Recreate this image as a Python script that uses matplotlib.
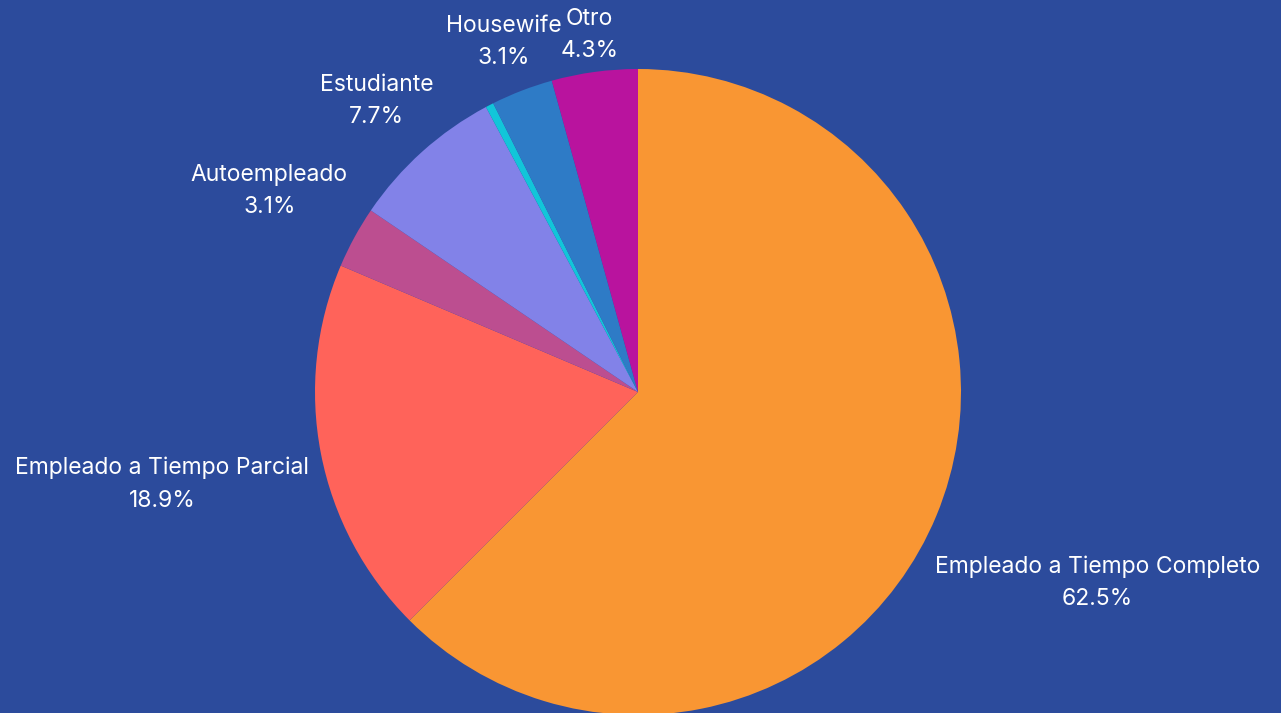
import matplotlib.pyplot as plt

# data
labels = ['Empleado a Tiempo Completo', 'Empleado a Tiempo Parcial', 'Autoempleado',
          'Estudiante', 'Desempleado', 'Housewife', 'Otro']
shares = [62.5, 18.9, 3.1, 7.7, 0.4, 3.1, 4.3]
colors = ['#F99633', '#FF635A', '#BC4E90', '#8282E8', '#12C5D9', '#2E7BC6', '#B9139E']
bg = '#2C4B9C'

# how far out each label sits (in radii)
label_dist = [1.54, 1.50, 1.30, 1.21, 1.2, 1.16, 1.115]

plt.rcParams['font.family'] = ['Inter', 'DejaVu Sans']

fig = plt.figure(figsize=(12.81, 7.13), dpi=100)
fig.patch.set_facecolor(bg)
# pie centre at (638, 392) px, radius 323 px
ax = fig.add_axes([(638 - 323) / 1281, (321 - 323) / 713, 646 / 1281, 646 / 713])
ax.set_facecolor(bg)

wedges, texts = ax.pie(shares, colors=colors, startangle=90, counterclock=False,
                       labels=[f'{l}\n{s}%' for l, s in zip(labels, shares)],
                       labeldistance=1.0, radius=1.0,
                       wedgeprops=dict(linewidth=0),
                       textprops=dict(color='white', fontsize=16.5, ha='center',
                                      va='center', linespacing=1.6))

for t, d, s in zip(texts, label_dist, shares):
    x, y = t.get_position()
    t.set_position((x * d, y * d))
    t.set_horizontalalignment('center')
    if s < 1:
        t.set_visible(False)

ax.set_xlim(-1, 1)
ax.set_ylim(-1, 1)
ax.set_aspect('equal')
ax.axis('off')

fig.savefig('out.png', dpi=100, facecolor=bg)
